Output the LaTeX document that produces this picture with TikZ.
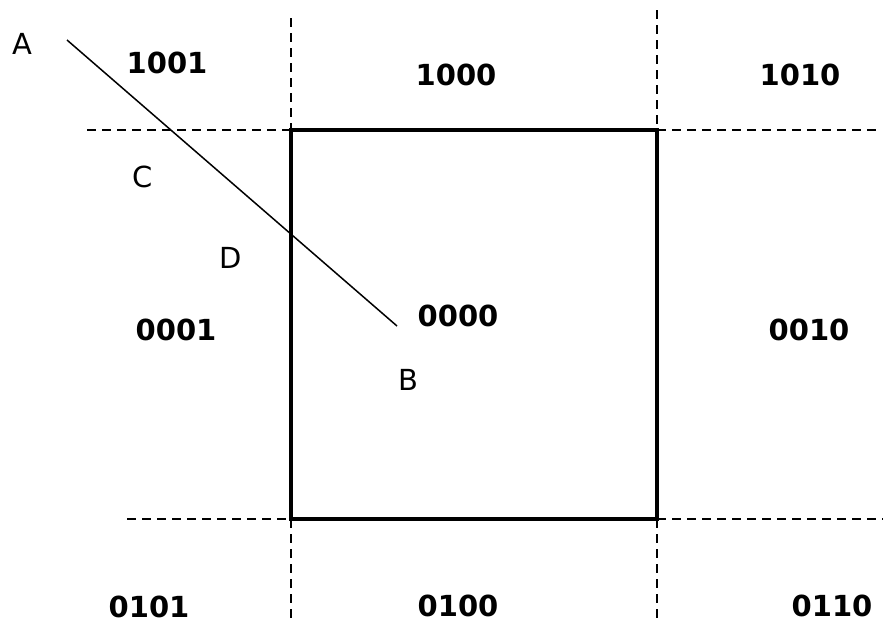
\documentclass[tikz,border=0pt]{standalone}
\usepackage{fontspec}
\setmainfont{DejaVu Sans}
\begin{document}
\begin{tikzpicture}[x=1pt,y=-1pt,
  code/.style={font=\fontsize{29}{34}\selectfont\bfseries, inner sep=0pt},
  pt/.style={font=\fontsize{29}{34}\selectfont, inner sep=0pt},
  guide/.style={line width=1.4pt, dash pattern=on 9pt off 6pt},
  clipbox/.style={line width=4.2pt, line join=miter},
  seg/.style={line width=1.5pt}]
\useasboundingbox (0,0) rectangle (883,624);
% window
\coordinate (TL) at (291,130);
\coordinate (TR) at (657,130);
\coordinate (BR) at (657,519);
\coordinate (BL) at (291,519);
% guide ends
\coordinate (hTLa) at (87,130);
\coordinate (hTRb) at (880,130);
\coordinate (hBLa) at (127,519);
\coordinate (hBRb) at (883,519);
\coordinate (vTLa) at (291,18);
\coordinate (vTRa) at (657,10);
\coordinate (vBLb) at (291,620);
\coordinate (vBRb) at (657,620);
\draw[guide] (hTLa) -- (TL);
\draw[guide] (TR) -- (hTRb);
\draw[guide] (hBLa) -- (BL);
\draw[guide] (BR) -- (hBRb);
\draw[guide] (vTLa) -- (TL);
\draw[guide] (vTRa) -- (TR);
\draw[guide] (BL) -- (vBLb);
\draw[guide] (BR) -- (vBRb);
\draw[clipbox] (TL) -- (TR) -- (BR) -- (BL) -- cycle;
% segment
\coordinate (pA) at (67,40);
\coordinate (pB) at (397,326);
\draw[seg] (pA) -- (pB);
% point labels
\node[pt] (lA) at (22,44) {A};
\node[pt] (lB) at (408,380) {B};
\node[pt] (lC) at (143,177) {C};
\node[pt] (lD) at (231,258) {D};
% region codes
\node[code] (c1001) at (167,63) {1001};
\node[code] (c1000) at (456,75) {1000};
\node[code] (c1010) at (800,75) {1010};
\node[code] (c0001) at (176,330) {0001};
\node[code] (c0000) at (458,316) {0000};
\node[code] (c0010) at (809,330) {0010};
\node[code] (c0101) at (149,607) {0101};
\node[code] (c0100) at (458,606) {0100};
\node[code] (c0110) at (832,606) {0110};
\end{tikzpicture}
\end{document}
